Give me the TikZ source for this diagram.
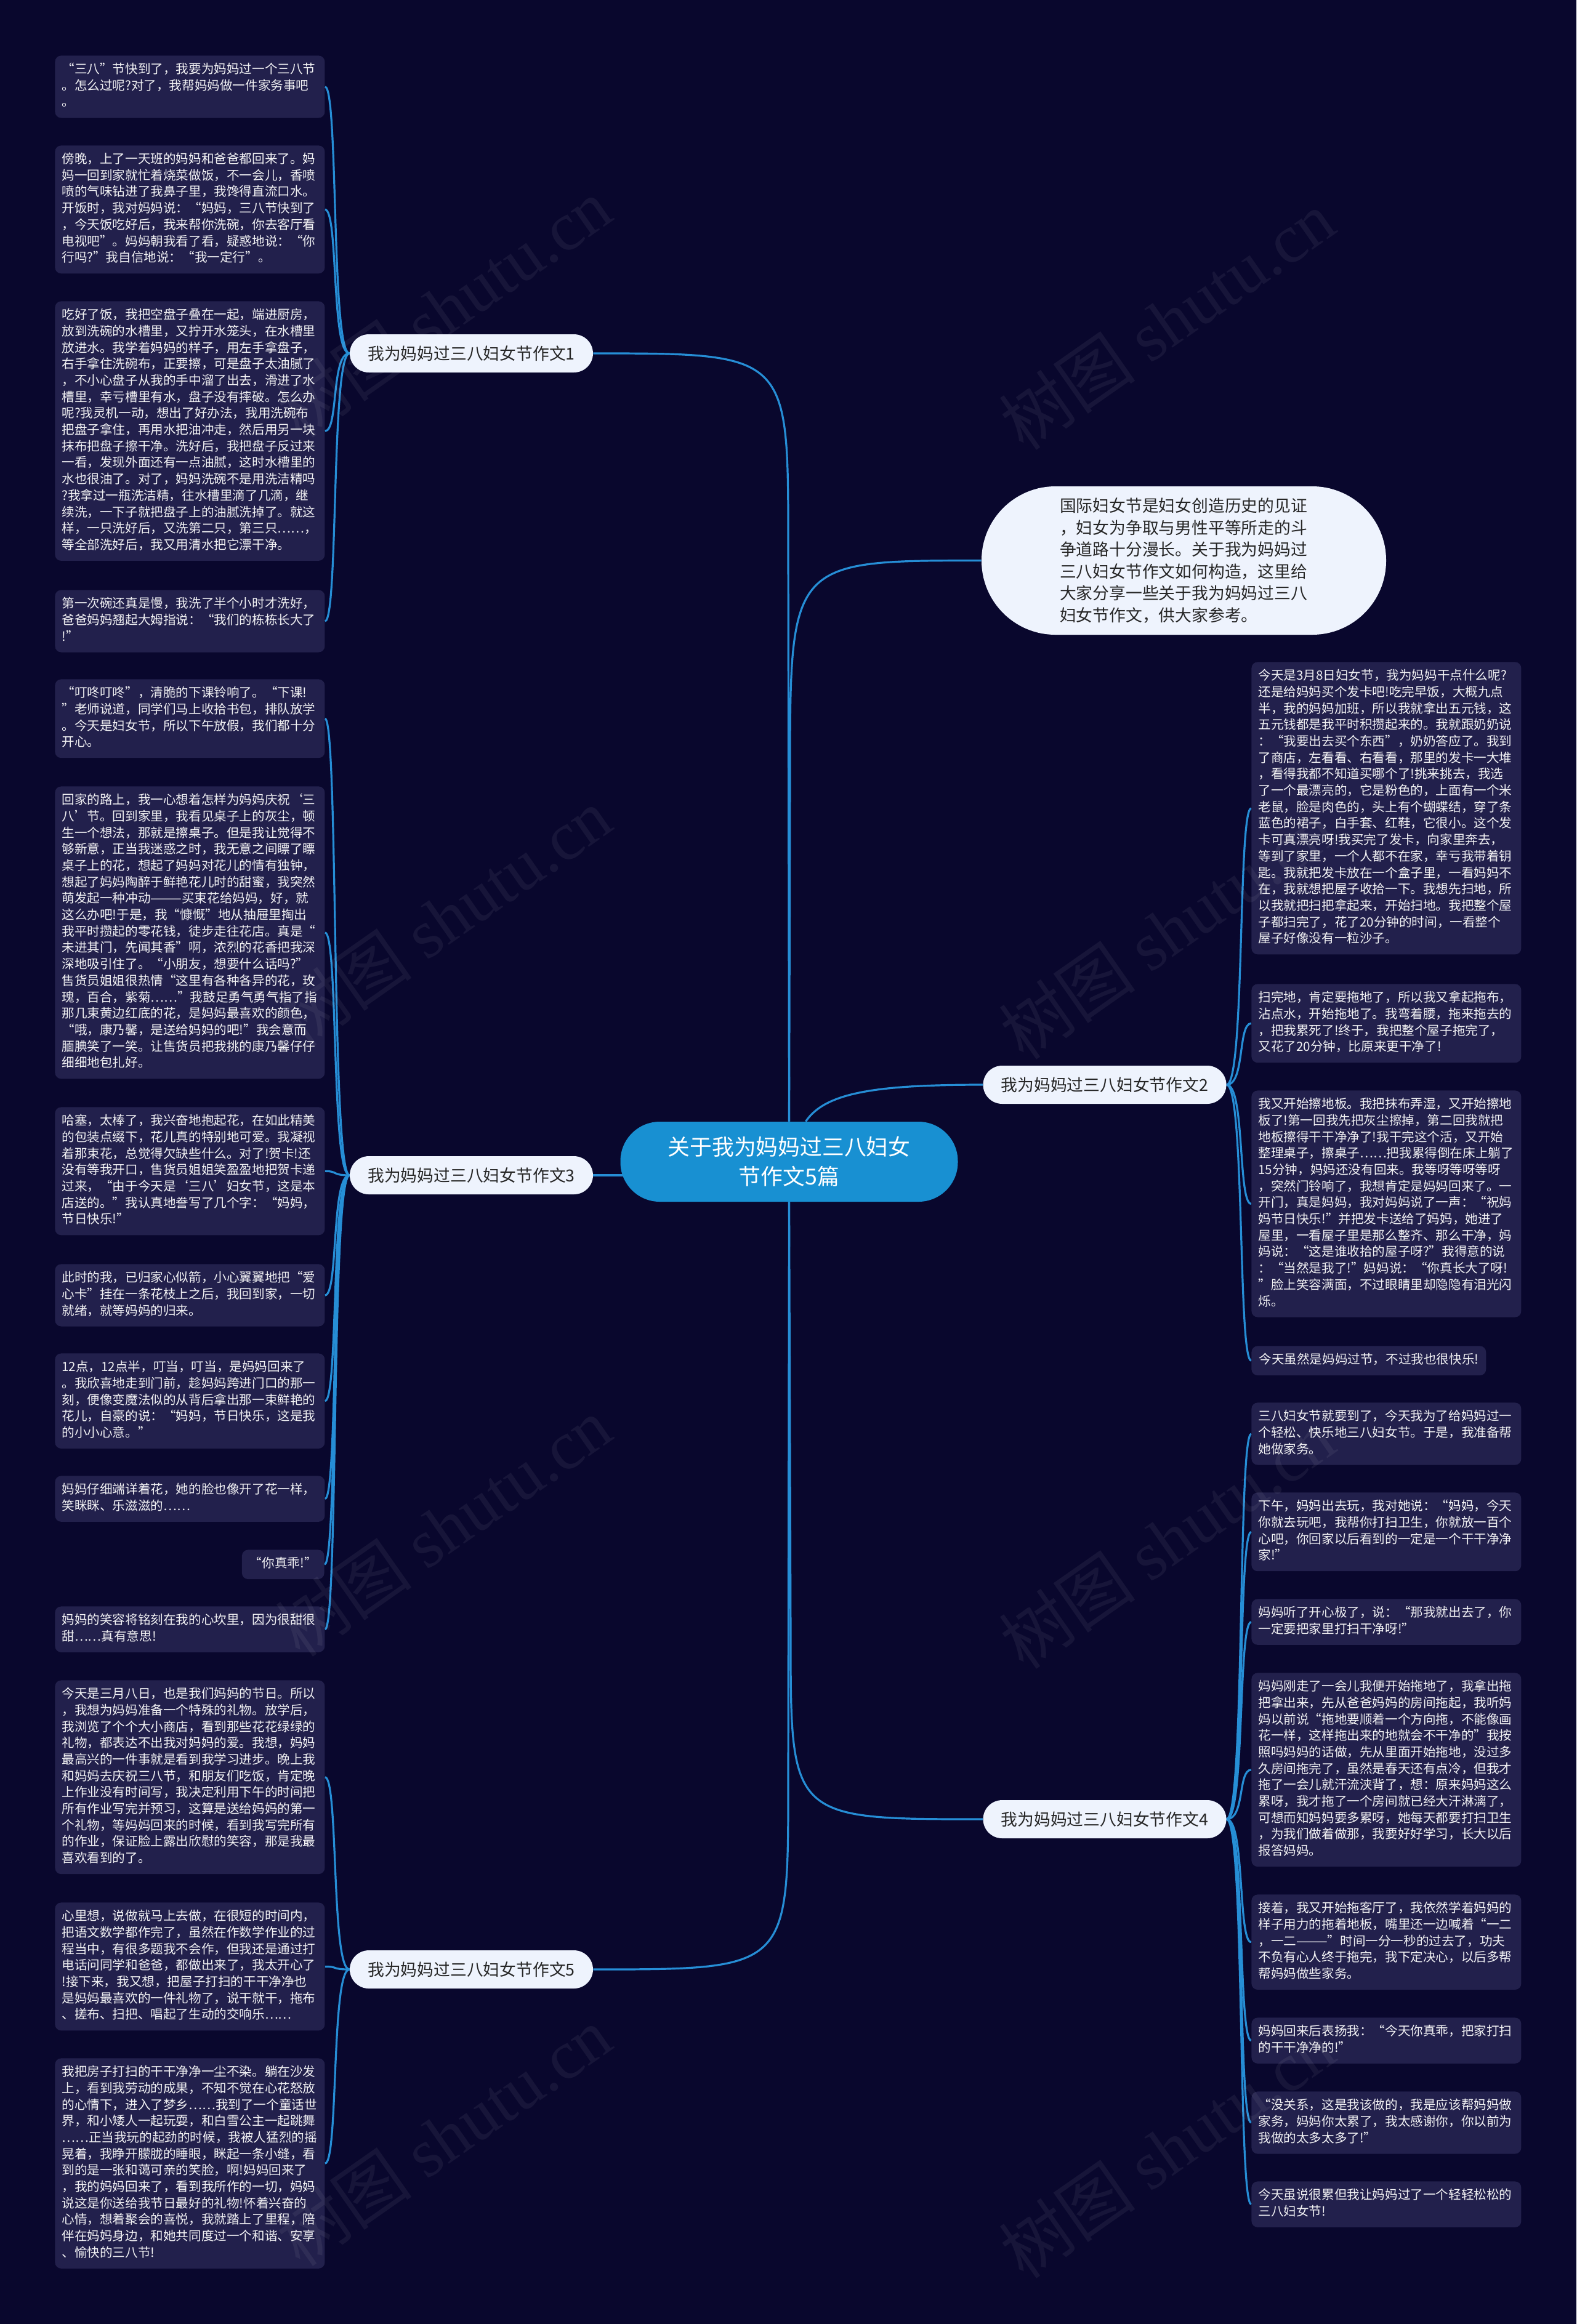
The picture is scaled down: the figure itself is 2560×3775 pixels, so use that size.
\documentclass[tikz,border=0pt]{standalone}
\usepackage{fontspec}
\setmainfont{Noto Sans CJK SC}
\newfontfamily\wmlat{Liberation Serif}
\usetikzlibrary{calc}
\pgfdeclarelayer{bg}
\pgfdeclarelayer{edges}
\pgfsetlayers{bg,edges,main}
\definecolor{bgc}{RGB}{9,7,45}
\definecolor{leafc}{RGB}{34,32,76}
\definecolor{linec}{RGB}{38,142,214}
\definecolor{centerc}{RGB}{24,144,210}
\definecolor{lightc}{RGB}{238,243,253}
\definecolor{darktext}{RGB}{38,38,38}
\tikzset{
  leaf/.style={fill=leafc, rounded corners=5pt, text=white!94!leafc,
    font=\fontsize{10.3pt}{13.35pt}\selectfont, align=left, text width=208pt,
    inner xsep=5.5pt, inner ysep=5.25pt, anchor=north west,
    execute at begin node=\strut, execute at end node=\strut},
  shortleaf/.style={fill=leafc, rounded corners=5pt, text=white!94!leafc,
    font=\fontsize{10.3pt}{13.35pt}\selectfont, inner xsep=6pt, inner ysep=5.25pt,
    execute at begin node=\strut, execute at end node=\strut},
  branch/.style={fill=lightc, rounded corners=15.5pt, minimum width=197.5pt,
    minimum height=31pt, text=darktext, font=\fontsize{13.4pt}{16pt}\selectfont, inner sep=0pt},
  centernode/.style={fill=centerc, rounded corners=32pt, minimum width=274pt,
    minimum height=65pt, text=white, font=\fontsize{17.9pt}{24pt}\selectfont, align=center, inner sep=0pt},
  intro/.style={fill=lightc, rounded corners=60pt, minimum width=328.5pt,
    minimum height=120.5pt, text=darktext, font=\fontsize{13.4pt}{17.8pt}\selectfont,
    align=left, text width=201.5pt, inner sep=0pt},
  conn/.style={draw=linec, line width=1.6pt},
  wm/.style={text=white, opacity=0.06, font=\fontsize{56pt}{60pt}\selectfont, rotate=35, inner sep=0pt}
}
\begin{document}
\begin{tikzpicture}[x=0.5pt,y=-0.5pt]
\begin{pgfonlayer}{bg}
\fill[bgc] (0,0) rectangle (2560,3775);
\end{pgfonlayer}
\useasboundingbox (0,0) rectangle (2560,3775);

% center and main branches
\node[centernode] (c) at (1281.5,1887) {关于我为妈妈过三八妇女\\节作文5篇};
\node[intro] (intro) at (1922.5,910.5) {国际妇女节是妇女创造历史的见证\\，妇女为争取与男性平等所走的斗\\争道路十分漫长。关于我为妈妈过\\三八妇女节作文如何构造，这里给\\大家分享一些关于我为妈妈过三八\\妇女节作文，供大家参考。};
\node[branch] (b1) at (765.5,574) {我为妈妈过三八妇女节作文1};
\node[branch] (b3) at (765.5,1909) {我为妈妈过三八妇女节作文3};
\node[branch] (b5) at (765.5,3199) {我为妈妈过三八妇女节作文5};
\node[branch] (b2) at (1794,1762) {我为妈妈过三八妇女节作文2};
\node[branch] (b4) at (1794,2955) {我为妈妈过三八妇女节作文4};

% branch 1 leaves
\node[leaf] (l1a) at (89,90) {“三八”节快到了，我要为妈妈过一个三八节\\。怎么过呢?对了，我帮妈妈做一件家务事吧\\。};
\node[leaf] (l1b) at (89,236) {傍晚，上了一天班的妈妈和爸爸都回来了。妈\\妈一回到家就忙着烧菜做饭，不一会儿，香喷\\喷的气味钻进了我鼻子里，我馋得直流口水。\\开饭时，我对妈妈说：“妈妈，三八节快到了\\，今天饭吃好后，我来帮你洗碗，你去客厅看\\电视吧”。妈妈朝我看了看，疑惑地说：“你\\行吗?”我自信地说：“我一定行”。};
\node[leaf] (l1c) at (89,489) {吃好了饭，我把空盘子叠在一起，端进厨房，\\放到洗碗的水槽里，又拧开水笼头，在水槽里\\放进水。我学着妈妈的样子，用左手拿盘子，\\右手拿住洗碗布，正要擦，可是盘子太油腻了\\，不小心盘子从我的手中溜了出去，滑进了水\\槽里，幸亏槽里有水，盘子没有摔破。怎么办\\呢?我灵机一动，想出了好办法，我用洗碗布\\把盘子拿住，再用水把油冲走，然后用另一块\\抹布把盘子擦干净。洗好后，我把盘子反过来\\一看，发现外面还有一点油腻，这时水槽里的\\水也很油了。对了，妈妈洗碗不是用洗洁精吗\\?我拿过一瓶洗洁精，往水槽里滴了几滴，继\\续洗，一下子就把盘子上的油腻洗掉了。就这\\样，一只洗好后，又洗第二只，第三只……，\\等全部洗好后，我又用清水把它漂干净。};
\node[leaf] (l1d) at (89,958) {第一次碗还真是慢，我洗了半个小时才洗好，\\爸爸妈妈翘起大姆指说：“我们的栋栋长大了\\!”};

% branch 3 leaves
\node[leaf] (l3a) at (89,1103) {“叮咚叮咚”，清脆的下课铃响了。“下课!\\”老师说道，同学们马上收拾书包，排队放学\\。今天是妇女节，所以下午放假，我们都十分\\开心。};
\node[leaf] (l3b) at (89,1277) {回家的路上，我一心想着怎样为妈妈庆祝‘三\\八’节。回到家里，我看见桌子上的灰尘，顿\\生一个想法，那就是擦桌子。但是我让觉得不\\够新意，正当我迷惑之时，我无意之间瞟了瞟\\桌子上的花，想起了妈妈对花儿的情有独钟，\\想起了妈妈陶醉于鲜艳花儿时的甜蜜，我突然\\萌发起一种冲动———买束花给妈妈，好，就\\这么办吧!于是，我“慷慨”地从抽屉里掏出\\我平时攒起的零花钱，徒步走往花店。真是“\\未进其门，先闻其香”啊，浓烈的花香把我深\\深地吸引住了。“小朋友，想要什么话吗?”\\售货员姐姐很热情“这里有各种各异的花，玫\\瑰，百合，紫菊……”我鼓足勇气勇气指了指\\那几束黄边红底的花，是妈妈最喜欢的颜色，\\“哦，康乃馨，是送给妈妈的吧!”我会意而\\腼腆笑了一笑。让售货员把我挑的康乃馨仔仔\\细细地包扎好。};
\node[leaf] (l3c) at (89,1798) {哈塞，太棒了，我兴奋地抱起花，在如此精美\\的包装点缀下，花儿真的特别地可爱。我凝视\\着那束花，总觉得欠缺些什么。对了!贺卡!还\\没有等我开口，售货员姐姐笑盈盈地把贺卡递\\过来，“由于今天是‘三八’妇女节，这是本\\店送的。”我认真地誊写了几个字：“妈妈，\\节日快乐!”};
\node[leaf] (l3d) at (89,2053) {此时的我，已归家心似箭，小心翼翼地把“爱\\心卡”挂在一条花枝上之后，我回到家，一切\\就绪，就等妈妈的归来。};
\node[leaf] (l3e) at (89,2198) {12点，12点半，叮当，叮当，是妈妈回来了\\。我欣喜地走到门前，趁妈妈跨进门口的那一\\刻，便像变魔法似的从背后拿出那一束鲜艳的\\花儿，自豪的说：“妈妈，节日快乐，这是我\\的小小心意。”};
\node[leaf] (l3f) at (89,2397) {妈妈仔细端详着花，她的脸也像开了花一样，\\笑眯眯、乐滋滋的……};
\node[shortleaf, anchor=north east, minimum width=65.5pt] (l3g) at (527,2517) {“你真乖!”};
\node[leaf] (l3h) at (89,2609) {妈妈的笑容将铭刻在我的心坎里，因为很甜很\\甜……真有意思!};

% branch 5 leaves
\node[leaf] (l5a) at (89,2729) {今天是三月八日，也是我们妈妈的节日。所以\\，我想为妈妈准备一个特殊的礼物。放学后，\\我浏览了个个大小商店，看到那些花花绿绿的\\礼物，都表达不出我对妈妈的爱。我想，妈妈\\最高兴的一件事就是看到我学习进步。晚上我\\和妈妈去庆祝三八节，和朋友们吃饭，肯定晚\\上作业没有时间写，我决定利用下午的时间把\\所有作业写完并预习，这算是送给妈妈的第一\\个礼物，等妈妈回来的时候，看到我写完所有\\的作业，保证脸上露出欣慰的笑容，那是我最\\喜欢看到的了。};
\node[leaf] (l5b) at (89,3090) {心里想，说做就马上去做，在很短的时间内，\\把语文数学都作完了，虽然在作数学作业的过\\程当中，有很多题我不会作，但我还是通过打\\电话问同学和爸爸，都做出来了，我太开心了\\!接下来，我又想，把屋子打扫的干干净净也\\是妈妈最喜欢的一件礼物了，说干就干，拖布\\、搓布、扫把、唱起了生动的交响乐……};
\node[leaf] (l5c) at (89,3343) {我把房子打扫的干干净净一尘不染。躺在沙发\\上，看到我劳动的成果，不知不觉在心花怒放\\的心情下，进入了梦乡……我到了一个童话世\\界，和小矮人一起玩耍，和白雪公主一起跳舞\\……正当我玩的起劲的时候，我被人猛烈的摇\\晃着，我睁开朦胧的睡眼，眯起一条小缝，看\\到的是一张和蔼可亲的笑脸，啊!妈妈回来了\\，我的妈妈回来了，看到我所作的一切，妈妈\\说这是你送给我节日最好的礼物!怀着兴奋的\\心情，想着聚会的喜悦，我就踏上了里程，陪\\伴在妈妈身边，和她共同度过一个和谐、安享\\、愉快的三八节!};

% branch 2 leaves
\node[leaf] (r2a) at (2032,1075) {今天是3月8日妇女节，我为妈妈干点什么呢?\\还是给妈妈买个发卡吧!吃完早饭，大概九点\\半，我的妈妈加班，所以我就拿出五元钱，这\\五元钱都是我平时积攒起来的。我就跟奶奶说\\：“我要出去买个东西”，奶奶答应了。我到\\了商店，左看看、右看看，那里的发卡一大堆\\，看得我都不知道买哪个了!挑来挑去，我选\\了一个最漂亮的，它是粉色的，上面有一个米\\老鼠，脸是肉色的，头上有个蝴蝶结，穿了条\\蓝色的裙子，白手套、红鞋，它很小。这个发\\卡可真漂亮呀!我买完了发卡，向家里奔去，\\等到了家里，一个人都不在家，幸亏我带着钥\\匙。我就把发卡放在一个盒子里，一看妈妈不\\在，我就想把屋子收拾一下。我想先扫地，所\\以我就把扫把拿起来，开始扫地。我把整个屋\\子都扫完了，花了20分钟的时间，一看整个\\屋子好像没有一粒沙子。};
\node[leaf] (r2b) at (2032,1598) {扫完地，肯定要拖地了，所以我又拿起拖布，\\沾点水，开始拖地了。我弯着腰，拖来拖去的\\，把我累死了!终于，我把整个屋子拖完了，\\又花了20分钟，比原来更干净了!};
\node[leaf] (r2c) at (2032,1771) {我又开始擦地板。我把抹布弄湿，又开始擦地\\板了!第一回我先把灰尘擦掉，第二回我就把\\地板擦得干干净净了!我干完这个活，又开始\\整理桌子，擦桌子……把我累得倒在床上躺了\\15分钟，妈妈还没有回来。我等呀等呀等呀\\，突然门铃响了，我想肯定是妈妈回来了。一\\开门，真是妈妈，我对妈妈说了一声：“祝妈\\妈节日快乐!”并把发卡送给了妈妈，她进了\\屋里，一看屋子里是那么整齐、那么干净，妈\\妈说：“这是谁收拾的屋子呀?”我得意的说\\：“当然是我了!”妈妈说：“你真长大了呀!\\”脸上笑容满面，不过眼睛里却隐隐有泪光闪\\烁。};
\node[shortleaf, anchor=north west] (r2d) at (2032,2186) {今天虽然是妈妈过节，不过我也很快乐!};

% branch 4 leaves
\node[leaf] (r4a) at (2032,2278) {三八妇女节就要到了，今天我为了给妈妈过一\\个轻松、快乐地三八妇女节。于是，我准备帮\\她做家务。};
\node[leaf] (r4b) at (2032,2424) {下午，妈妈出去玩，我对她说：“妈妈，今天\\你就去玩吧，我帮你打扫卫生，你就放一百个\\心吧，你回家以后看到的一定是一个干干净净\\家!”};
\node[leaf] (r4c) at (2032,2597) {妈妈听了开心极了，说：“那我就出去了，你\\一定要把家里打扫干净呀!”};
\node[leaf] (r4d) at (2032,2717) {妈妈刚走了一会儿我便开始拖地了，我拿出拖\\把拿出来，先从爸爸妈妈的房间拖起，我听妈\\妈以前说“拖地要顺着一个方向拖，不能像画\\花一样，这样拖出来的地就会不干净的”我按\\照吗妈妈的话做，先从里面开始拖地，没过多\\久房间拖完了，虽然是春天还有点冷，但我才\\拖了一会儿就汗流浃背了，想：原来妈妈这么\\累呀，我才拖了一个房间就已经大汗淋漓了，\\可想而知妈妈要多累呀，她每天都要打扫卫生\\，为我们做着做那，我要好好学习，长大以后\\报答妈妈。};
\node[leaf] (r4e) at (2032,3077) {接着，我又开始拖客厅了，我依然学着妈妈的\\样子用力的拖着地板，嘴里还一边喊着“一二\\，一二———”时间一分一秒的过去了，功夫\\不负有心人终于拖完，我下定决心，以后多帮\\帮妈妈做些家务。};
\node[leaf] (r4f) at (2032,3277) {妈妈回来后表扬我：“今天你真乖，把家打扫\\的干干净净的!”};
\node[leaf] (r4g) at (2032,3397) {“没关系，这是我该做的，我是应该帮妈妈做\\家务，妈妈你太累了，我太感谢你，你以前为\\我做的太多太多了!”};
\node[leaf] (r4h) at (2032,3543) {今天虽说很累但我让妈妈过了一个轻轻松松的\\三八妇女节!};

% connectors
\begin{pgfonlayer}{edges}
\draw[conn] (c.north) -- (1280,880) .. controls (1280,574) .. (b1.east);
\draw[conn] (c.north) -- (1283,1260) .. controls (1283,910.5) .. (intro.west);
\draw[conn] ($(c.north)+(27,0)$) .. controls (1340,1775) and (1420,1762) .. (b2.west);
\draw[conn] (b3.east) -- ($(c.west |- b3.east)+(12,0)$);
\draw[conn] (c.south) -- (1284,2660) .. controls (1284,2955) .. (b4.west);
\draw[conn] (c.south) -- (1280,2900) .. controls (1280,3199) .. (b5.east);
\foreach \l in {l1a,l1b,l1c,l1d}
  \draw[conn] (b1.west) .. controls +(-30,0) and +(22,0) .. (\l.east);
\foreach \l in {l3a,l3b,l3c,l3d,l3e,l3f,l3g,l3h}
  \draw[conn] (b3.west) .. controls +(-30,0) and +(22,0) .. (\l.east);
\foreach \l in {l5a,l5b,l5c}
  \draw[conn] (b5.west) .. controls +(-30,0) and +(22,0) .. (\l.east);
\foreach \r in {r2a,r2b,r2c,r2d}
  \draw[conn] (b2.east) .. controls +(30,0) and +(-22,0) .. (\r.west);
\foreach \r in {r4a,r4b,r4c,r4d,r4e,r4f,r4g,r4h}
  \draw[conn] (b4.east) .. controls +(30,0) and +(-22,0) .. (\r.west);
\end{pgfonlayer}

% watermarks
\node[wm] (w1) at (720,500) {树图 {\wmlat shutu.cn}};
\node[wm] (w2) at (1895,520) {树图 {\wmlat shutu.cn}};
\node[wm] (w3) at (720,1490) {树图 {\wmlat shutu.cn}};
\node[wm] (w4) at (1895,1510) {树图 {\wmlat shutu.cn}};
\node[wm] (w5) at (720,2480) {树图 {\wmlat shutu.cn}};
\node[wm] (w6) at (1895,2500) {树图 {\wmlat shutu.cn}};
\node[wm] (w7) at (720,3470) {树图 {\wmlat shutu.cn}};
\node[wm] (w8) at (1895,3490) {树图 {\wmlat shutu.cn}};
\end{tikzpicture}
\end{document}
